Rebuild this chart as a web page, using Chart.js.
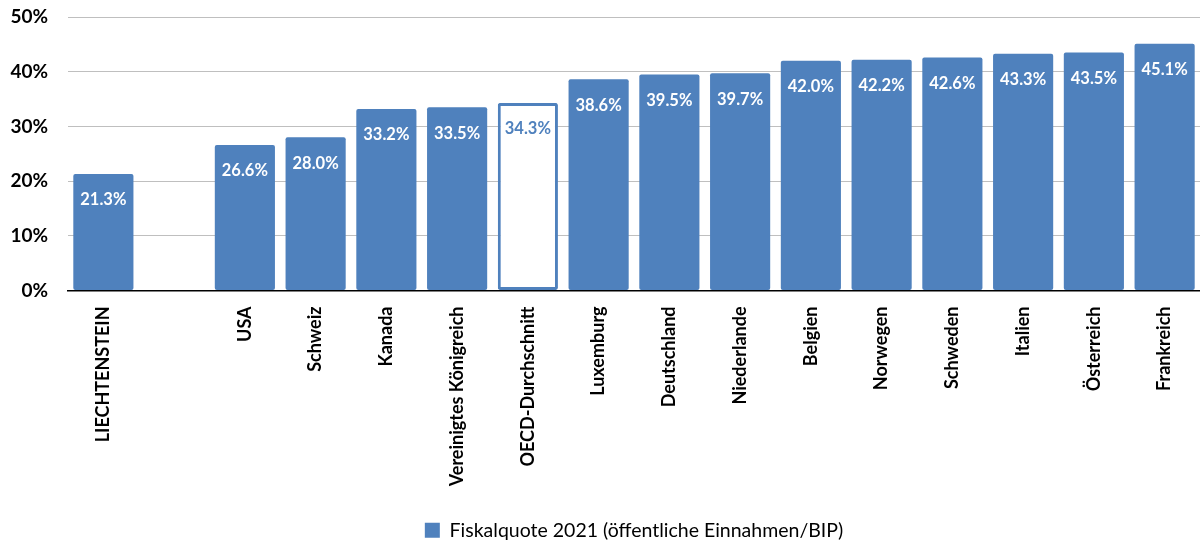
<!DOCTYPE html>
<html>
<head>
<meta charset="utf-8">
<script src="https://cdn.jsdelivr.net/npm/chart.js"></script>
<style>
  html, body { margin: 0; padding: 0; background: #fff; }
  #wrap { width: 1200px; height: 542px; }
</style>
</head>
<body>
<div id="wrap"><canvas id="chart"></canvas></div>
<script>
// Fiskalquote 2021, values in percent (empty slot after Liechtenstein)
const countries = ['LIECHTENSTEIN', '', 'USA', 'Schweiz', 'Kanada', 'Vereinigtes Königreich',
  'OECD-Durchschnitt', 'Luxemburg', 'Deutschland', 'Niederlande', 'Belgien', 'Norwegen',
  'Schweden', 'Italien', 'Österreich', 'Frankreich'];
const quote = [21.3, null, 26.6, 28.0, 33.2, 33.5, 34.3, 38.6, 39.5, 39.7, 42.0, 42.2, 42.6, 43.3, 43.5, 45.1];
const yTicks = [0, 10, 20, 30, 40, 50];
const seriesLabel = 'Fiskalquote 2021 (öffentliche Einnahmen/BIP)';

const BLUE = '#4F81BD';
const FONT = 'Lato, "Open Sans", sans-serif';
const isAvg = (i) => countries[i] === 'OECD-Durchschnitt';

// draw value labels inside the top of each bar
const valueLabels = {
  id: 'valueLabels',
  afterDatasetsDraw(chart) {
    const ctx = chart.ctx;
    const meta = chart.getDatasetMeta(0);
    ctx.save();
    ctx.font = 'bold 16.5px ' + FONT;
    ctx.textAlign = 'center';
    ctx.textBaseline = 'middle';
    meta.data.forEach((bar, i) => {
      const v = quote[i];
      if (v == null) return;
      ctx.fillStyle = isAvg(i) ? BLUE : '#fff';
      ctx.fillText(v.toFixed(1) + '%', bar.x, bar.y + 26);
    });
    ctx.restore();
  }
};

new Chart(document.getElementById('chart'), {
  type: 'bar',
  data: {
    labels: countries,
    datasets: [{
      label: seriesLabel,
      data: quote,
      backgroundColor: quote.map((v, i) => isAvg(i) ? '#fff' : BLUE),
      borderColor: BLUE,
      borderWidth: quote.map((v, i) => isAvg(i) ? 3 : 0),
      borderSkipped: false,
      borderRadius: 2,
      categoryPercentage: 1,
      barPercentage: 0.85
    }]
  },
  options: {
    responsive: true,
    maintainAspectRatio: false,
    animation: false,
    layout: { padding: { top: 17, right: 0, left: 0, bottom: -8 } },
    plugins: {
      tooltip: { enabled: false },
      legend: {
        position: 'bottom',
        fullSize: false,
        labels: {
          color: '#000',
          font: { family: FONT, size: 19.5 },
          boxWidth: 15,
          boxHeight: 15,
          padding: 2,
          generateLabels: () => [{
            text: seriesLabel, fillStyle: BLUE, strokeStyle: BLUE, lineWidth: 0, hidden: false, datasetIndex: 0
          }]
        }
      }
    },
    scales: {
      x: {
        grid: { display: false },
        border: { display: true, color: '#000', width: 1.5, z: 1 },
        ticks: {
          color: '#000',
          font: { family: FONT, size: 18, weight: 'bold' },
          minRotation: 90,
          maxRotation: 90,
          autoSkip: false,
          padding: 8
        },
        afterFit(scale) { scale.height = 228; }
      },
      y: {
        min: 0,
        max: 50,
        afterBuildTicks(scale) { scale.ticks = yTicks.map(v => ({ value: v })); },
        grid: { color: '#BFBFBF', lineWidth: 1, drawTicks: false },
        border: { display: false },
        ticks: {
          color: '#000',
          font: { family: FONT, size: 19, weight: 'bold' },
          padding: 20,
          callback: (v) => v + '%'
        },
        afterFit(scale) {
          scale.width = 68;
          scale.paddingTop = 0;
          scale.paddingBottom = 0;
        }
      }
    }
  },
  plugins: [valueLabels]
});
</script>
</body>
</html>
